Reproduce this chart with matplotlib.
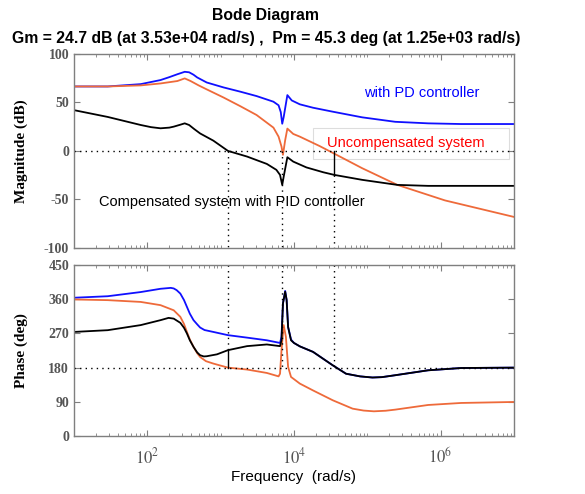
import numpy as np
import matplotlib
matplotlib.use("Agg")
import matplotlib.pyplot as plt
from matplotlib.ticker import FixedLocator, LogLocator, NullFormatter
from matplotlib.patches import Rectangle

# --- values (log10 of frequency in rad/s) ---
# magnitude, dB
pd_mag_lw = [1.0, 1.46, 1.91, 2.18, 2.30, 2.41, 2.51, 2.57, 2.63, 2.68, 2.81, 3.04, 3.27, 3.49,
             3.72, 3.79, 3.82, 3.84, 3.86, 3.91, 3.97, 4.08, 4.26, 4.53, 4.93, 5.38, 5.83,
             6.28, 7.0]
pd_mag = [66.4, 66.4, 68.8, 73.0, 76.0, 79.0, 81.5, 81.0, 78.5, 75.7, 70.5, 65.4, 61.0, 56.5,
          50.7, 47.0, 40.0, 28.0, 35.0, 57.5, 52.0, 48.0, 44.5, 40.4, 34.6, 30.0, 28.4,
          27.7, 27.7]

unc_mag_lw = [1.0, 1.46, 1.91, 2.18, 2.41, 2.51, 2.59, 2.70, 2.81, 3.04, 3.27, 3.49, 3.72, 3.79,
              3.83, 3.85, 3.88, 3.91, 3.99, 4.08, 4.35, 4.58, 4.93, 5.41, 6.06, 7.0]
unc_mag = [66.4, 66.4, 67.5, 69.5, 72.0, 74.7, 72.0, 67.5, 63.4, 55.0, 46.0, 37.0, 24.0, 14.7,
           4.5, -4.0, 11.0, 23.0, 17.5, 14.7, 5.0, -4.0, -17.8, -35.0, -51.0, -68.0]

pid_mag_lw = [1.0, 1.46, 1.91, 2.05, 2.18, 2.30, 2.36, 2.45, 2.51, 2.57, 2.64, 2.72, 2.90, 3.10,
              3.36, 3.63, 3.76, 3.81, 3.84, 3.86, 3.91, 3.99, 4.17, 4.40, 4.55, 4.93, 5.41,
              5.83, 7.0]
pid_mag = [42.0, 35.0, 26.7, 24.5, 23.3, 24.0, 25.0, 27.0, 28.4, 26.7, 22.5, 18.0, 10.6, 0.0,
           -5.8, -13.4, -19.5, -24.7, -35.0, -26.4, -6.5, -11.0, -17.0, -22.0, -24.7, -29.8,
           -35.0, -36.0, -36.0]

# phase, deg
pd_ph_lw = [1.0, 1.46, 1.91, 2.18, 2.32, 2.36, 2.40, 2.45, 2.50, 2.54, 2.58, 2.63, 2.68, 2.72,
            2.78, 2.90, 3.10, 3.36, 3.63, 3.81, 3.83, 3.85, 3.88, 3.90, 3.92, 3.96, 4.00,
            4.08, 4.26, 4.53, 4.71, 4.90, 5.07, 5.20, 5.38, 5.83, 6.28, 7.0]
pd_ph = [364, 368, 379, 387.6, 390, 388.5, 384, 375, 358, 340, 322, 305, 294, 285.6,
         279, 274, 265.5, 259, 252, 245, 261, 349, 382, 358, 287, 254, 245,
         236, 221.5, 186, 164, 157, 154, 155, 160, 173, 179, 180]

unc_ph_lw = [1.0, 1.46, 1.91, 2.18, 2.36, 2.45, 2.50, 2.54, 2.58, 2.63, 2.68, 2.72, 2.80, 2.90,
             3.10, 3.36, 3.63, 3.79, 3.81, 3.83, 3.86, 3.89, 3.92, 3.96, 4.08, 4.26, 4.53,
             4.80, 4.95, 5.09, 5.25, 5.38, 5.83, 6.28, 7.0]
unc_ph = [359.5, 357.7, 353, 344.5, 331, 313.8, 295, 274, 254, 234.6, 218, 208, 197, 190.7,
          180, 175, 166, 157, 164, 226, 292, 261, 182, 155.5, 138, 120, 94,
          72, 67, 65, 66.5, 69.4, 81.7, 87, 89.6]

pid_ph_lw = [1.0, 1.46, 1.91, 2.18, 2.29, 2.36, 2.45, 2.50, 2.54, 2.58, 2.63, 2.68, 2.72, 2.77,
             2.81, 2.95, 3.10, 3.36, 3.63, 3.81, 3.83, 3.85, 3.88, 3.90, 3.92, 3.96, 4.00,
             4.08, 4.26, 4.53, 4.71, 4.90, 5.07, 5.20, 5.38, 5.83, 6.28, 7.0]
pid_ph = [274, 278.6, 292, 305, 311, 309, 298, 285, 270, 252, 234.6, 220, 212.7, 209.5,
          210, 215, 226, 236.6, 241, 236.6, 252, 349, 380, 358, 287, 252, 245,
          236, 221.5, 186, 164, 157, 154, 155, 160, 173, 179, 180]

# margins
gm_db = 24.7
gm_freq = 3.53e4
pm_deg = 45.3
pm_freq = 1.25e3
notch_freq = 6.8e3

BLUE = "#1010ff"
ORANGE = "#ee6a3a"
BLACK = "#000000"
FRAME = "#7f7f7f"
TICKC = "#555555"

plt.rcParams["mathtext.fontset"] = "stix"
plt.rcParams["axes.unicode_minus"] = False

fig = plt.figure(figsize=(5.85, 4.94), dpi=100)
ax1 = fig.add_axes([0.1265, 0.498, 0.752, 0.393])
ax2 = fig.add_axes([0.1265, 0.1174, 0.752, 0.346])

lw = 1.3
ax1.semilogx(10 ** np.array(pd_mag_lw), pd_mag, color=BLUE, lw=lw)
ax1.semilogx(10 ** np.array(unc_mag_lw), unc_mag, color=ORANGE, lw=lw)
ax1.semilogx(10 ** np.array(pid_mag_lw), pid_mag, color=BLACK, lw=lw)

ax2.semilogx(10 ** np.array(pd_ph_lw), pd_ph, color=BLUE, lw=lw)
ax2.semilogx(10 ** np.array(unc_ph_lw), unc_ph, color=ORANGE, lw=lw)
ax2.semilogx(10 ** np.array(pid_ph_lw), pid_ph, color=BLACK, lw=lw)

dot = dict(color="black", lw=1.0, ls=(0, (1, 3)))
# magnitude margin lines
ax1.axhline(0, **dot)
ax1.plot([pm_freq, pm_freq], [0, -100], **dot)
ax1.plot([notch_freq, notch_freq], [0, -100], **dot)
ax1.plot([gm_freq, gm_freq], [-gm_db, -100], **dot)
ax1.plot([gm_freq, gm_freq], [0, -gm_db], color="black", lw=1.0)
# phase margin lines
ax2.axhline(180, **dot)
ax2.plot([pm_freq, pm_freq], [450, 180 + pm_deg], **dot)
ax2.plot([pm_freq, pm_freq], [180, 180 + pm_deg], color="black", lw=1.0)
ax2.plot([notch_freq, notch_freq], [450, 180], **dot)
ax2.plot([gm_freq, gm_freq], [450, 180], **dot)

for ax in (ax1, ax2):
    ax.set_xlim(10, 1e7)
    ax.xaxis.set_major_locator(FixedLocator([1e2, 1e4, 1e6]))
    ax.xaxis.set_minor_locator(LogLocator(base=10, subs=np.arange(1, 10), numticks=20))
    ax.xaxis.set_minor_formatter(NullFormatter())
    ax.tick_params(which="both", direction="in", top=True, right=True, color=FRAME,
                   labelcolor=TICKC, labelsize=10)
    ax.tick_params(which="major", length=4)
    ax.tick_params(which="minor", length=2)
    for s in ax.spines.values():
        s.set_color(FRAME)
        s.set_linewidth(1.0)

ax1.set_ylim(-100, 100)
ax1.set_yticks([-100, -50, 0, 50, 100])
ax1.set_xticklabels([])
ax2.set_ylim(0, 450)
ax2.set_yticks([0, 90, 180, 270, 360, 450])
ax2.set_xticklabels([r"$10^{2}$", r"$10^{4}$", r"$10^{6}$"], fontsize=12)
ax2.tick_params(axis="x", pad=8)
for ax in (ax1, ax2):
    for lab in ax.get_yticklabels():
        lab.set_fontfamily("Liberation Serif")
        lab.set_fontweight("bold")

ax1.set_ylabel("Magnitude (dB)", family="Liberation Serif", fontweight="bold", fontsize=11)
ax2.set_ylabel("Phase (deg)", family="Liberation Serif", fontweight="bold", fontsize=11)
ax1.yaxis.set_label_coords(-0.105, 0.5)
ax2.yaxis.set_label_coords(-0.105, 0.5)
ax2.set_xlabel("Frequency  (rad/s)", family="Liberation Sans", fontsize=11, labelpad=2)

ax1.text(0.79, 0.80, "with PD controller", transform=ax1.transAxes, color="#0000ff",
         family="Liberation Sans", fontsize=10.5, ha="center", va="center")
ax1.text(0.755, 0.54, "Uncompensated system", transform=ax1.transAxes, color="#ff0000",
         family="Liberation Sans", fontsize=10.5, ha="center", va="center")
ax1.add_patch(Rectangle((0.543, 0.459), 0.446, 0.16, transform=ax1.transAxes,
                        fill=False, edgecolor="#dddddd", lw=0.8))
ax1.text(0.057, 0.237, "Compensated system with PID controller", transform=ax1.transAxes,
         color="black", family="Liberation Sans", fontsize=10.5, ha="left", va="center")

fig.text(0.453, 0.968, "Bode Diagram", ha="center", va="center", family="Liberation Sans",
         fontweight="bold", fontsize=11.3)
fig.text(0.455, 0.922,
         "Gm = %.1f dB (at %.2e rad/s) ,  Pm = %.1f deg (at %.2e rad/s)"
         % (gm_db, gm_freq, pm_deg, pm_freq),
         ha="center", va="center", family="Liberation Sans", fontweight="bold", fontsize=11.3)

fig.savefig("out.png", dpi=100)
